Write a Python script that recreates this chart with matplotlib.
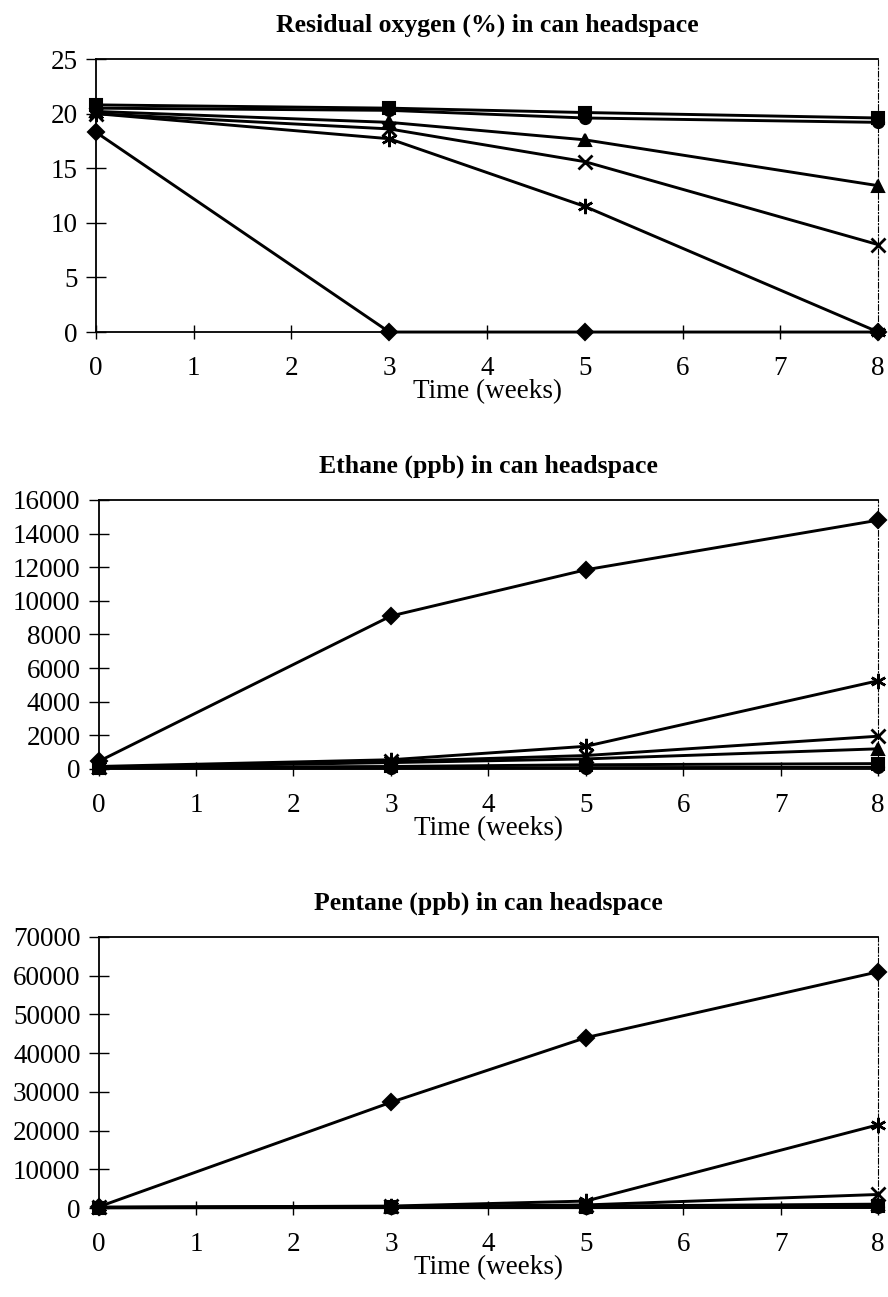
import matplotlib
matplotlib.use("Agg")
import matplotlib.pyplot as plt

plt.rcParams["font.family"] = ["Liberation Serif", "DejaVu Serif"]

weeks = [0, 3, 5, 8]

# Residual oxygen (%)
o2_diamond = [18.3, 0.0, 0.0, 0.0]
o2_square = [20.8, 20.5, 20.1, 19.6]
o2_triangle = [20.2, 19.2, 17.6, 13.4]
o2_cross = [20.0, 18.6, 15.6, 8.0]
o2_star = [20.0, 17.7, 11.5, 0.0]
o2_circle = [20.5, 20.3, 19.6, 19.2]

# Ethane (ppb)
et_diamond = [450, 9100, 11850, 14800]
et_star = [150, 550, 1350, 5250]
et_cross = [100, 450, 800, 1950]
et_triangle = [100, 380, 600, 1200]
et_square = [80, 150, 250, 320]
et_circle = [50, 50, 80, 100]

# Pentane (ppb)
pe_diamond = [300, 27300, 44000, 61000]
pe_star = [200, 500, 1800, 21500]
pe_cross = [200, 400, 800, 3500]
pe_triangle = [150, 300, 500, 1000]
pe_square = [100, 200, 300, 500]
pe_circle = [50, 100, 100, 200]

STAR = (6, 2, 0)

panels = [
    ("Residual oxygen (%) in can headspace", 25, 5,
     [(o2_diamond, "D"), (o2_square, "s"), (o2_circle, "o"), (o2_triangle, "^"),
      (o2_cross, "x"), (o2_star, STAR)],
     [0.108, 0.744, 0.881, 0.2105]),
    ("Ethane (ppb) in can headspace", 16000, 2000,
     [(et_diamond, "D"), (et_square, "s"), (et_circle, "o"), (et_triangle, "^"),
      (et_cross, "x"), (et_star, STAR)],
     [0.111, 0.4071, 0.878, 0.2074]),
    ("Pentane (ppb) in can headspace", 70000, 10000,
     [(pe_diamond, "D"), (pe_square, "s"), (pe_circle, "o"), (pe_triangle, "^"),
      (pe_cross, "x"), (pe_star, STAR)],
     [0.111, 0.0686, 0.878, 0.209]),
]

fig = plt.figure(figsize=(8.88, 12.97), dpi=100)

for title, ymax, ystep, series, rect in panels:
    ax = fig.add_axes(rect)
    for vals, mk in series:
        ms = 8
        mew = 1.5
        if mk == "x":
            ms = 10
            mew = 2.0
        elif mk == STAR:
            ms = 11
            mew = 1.8
        ax.plot(weeks, vals, color="black", lw=2.1, marker=mk, ms=ms,
                mfc="black", mec="black", mew=mew, clip_on=False, zorder=3)
    ax.set_xlim(0, 8)
    ax.set_ylim(0, ymax)
    ax.set_xticks(range(0, 9))
    ax.set_yticks(range(0, ymax + 1, ystep))
    ax.tick_params(axis="x", direction="inout", length=10, width=1,
                   labelsize=19.5, pad=12)
    ax.tick_params(axis="y", direction="inout", length=14, width=1,
                   labelsize=19.5, pad=6)
    for side in ["left", "top", "bottom"]:
        ax.spines[side].set_linewidth(1.3)
    ax.spines["right"].set_linewidth(0.8)
    ax.spines["right"].set_linestyle((0, (5, 2, 1, 2)))
    ax.set_xlabel("Time (weeks)", fontsize=19.5, labelpad=-1)
    ax.set_title(title, fontsize=18.5, fontweight="bold", pad=20)

fig.savefig("out.png", dpi=100)
